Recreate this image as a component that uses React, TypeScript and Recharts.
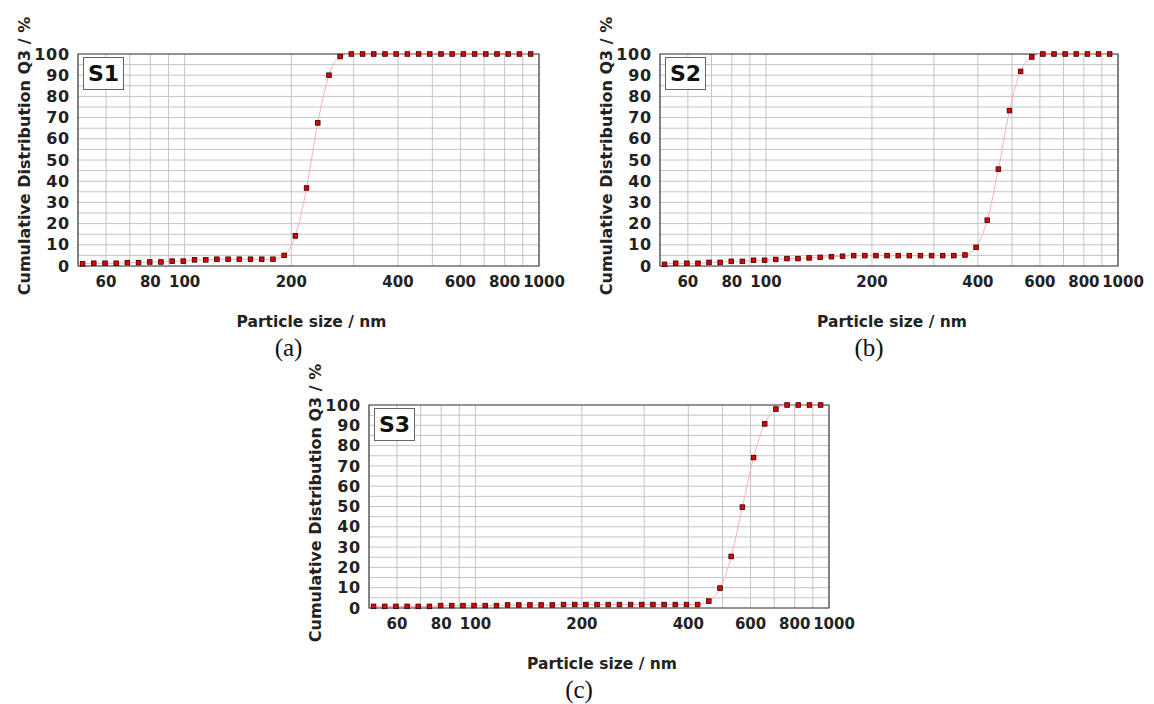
import React from 'react';
import { ComposedChart, Line, XAxis, YAxis, CartesianGrid, ReferenceArea } from 'recharts';

// size classes (nm)
const sizes = [
  51.5, 55.4, 59.6, 64.1, 68.9, 74.1, 79.7, 85.7, 92.2, 99.1,
  106.6, 114.7, 123.3, 132.6, 142.6, 153.4, 165.0, 177.5, 190.9, 205.3,
  220.8, 237.5, 255.4, 274.7, 295.4, 317.7, 341.7, 367.5, 395.3, 425.1,
  457.2, 491.7, 528.9, 568.8, 611.8, 658.0, 707.7, 761.1, 818.6, 880.4, 946.9,
];

const q3S1 = [
  1.0, 1.3, 1.3, 1.3, 1.6, 1.6, 1.9, 1.9, 2.3, 2.3,
  2.9, 2.9, 3.2, 3.2, 3.2, 3.2, 3.2, 3.2, 5.0, 14.2,
  36.8, 67.5, 90.0, 98.8, 100, 100, 100, 100, 100, 100,
  100, 100, 100, 100, 100, 100, 100, 100, 100, 100, 100,
];

const q3S2 = [
  0.8, 1.3, 1.3, 1.3, 1.7, 1.7, 2.2, 2.2, 2.7, 2.7,
  3.1, 3.5, 3.5, 3.8, 4.1, 4.4, 4.6, 4.9, 4.9, 4.9,
  4.9, 4.9, 4.9, 4.9, 4.9, 4.9, 4.9, 5.2, 8.8, 21.6,
  45.7, 73.3, 91.8, 98.6, 100, 100, 100, 100, 100, 100, 100,
];

const q3S3 = [
  0.8, 0.8, 0.8, 0.8, 0.8, 0.8, 1.2, 1.2, 1.2, 1.2,
  1.2, 1.2, 1.5, 1.5, 1.5, 1.5, 1.5, 1.7, 1.7, 1.7,
  1.7, 1.7, 1.7, 1.7, 1.7, 1.7, 1.7, 1.7, 1.7, 1.7,
  3.4, 9.8, 25.4, 49.7, 74.1, 90.7, 98.0, 100, 100, 100, 100,
];

const xTicks = [60, 70, 80, 90, 100, 200, 300, 400, 500, 600, 700, 800, 900, 1000];
const xMinorTicks = [55, 65, 75, 85, 95, 150, 250, 350, 450, 550, 650, 750, 850, 950];
const xLabels = [60, 80, 100, 200, 400, 600, 800, 1000];
const yTicks = [0, 5, 10, 15, 20, 25, 30, 35, 40, 45, 50, 55, 60, 65, 70, 75, 80, 85, 90, 95, 100];

const FONT = '"DejaVu Sans", Verdana, sans-serif';
const EXTRA = 30; // room to the right of the plot for the "1000" label

const SquareDot = (props: any) => {
  const { cx, cy } = props;
  if (cx == null || cy == null) return null;
  return <rect x={cx - 2.3} y={cy - 2.3} width={4.6} height={4.6} fill="#e00000" stroke="#300000" strokeWidth={0.8} />;
};

const XTick = (props: any) => {
  const { x, y, payload } = props;
  const v = payload.value;
  if (!xLabels.includes(v)) return null;
  // the last label sits a little right of its grid line in the original
  const dx = v === 1000 ? 5 : 0;
  return (
    <text x={x + dx} y={y} dy={11} textAnchor="middle" fill="#222"
      fontSize={15} fontWeight="bold" fontFamily={FONT}>
      {v}
    </text>
  );
};

type PanelProps = {
  values: number[],
  tag: string,
  caption: string,
  left: number,
  top: number,
  height: number,
  rightMargin: number,
};

const Panel: React.FC<PanelProps> = ({ values, tag, caption, left, top, height, rightMargin }) => {
  const data = sizes.map((s, i) => ({ size: s, q3: values[i] }));
  const width = 560 + EXTRA;
  const plotLeft = 78;
  const plotTop = 54;
  const plotBottom = height - 34;
  const plotRight = 560 - rightMargin;
  const midX = (plotLeft + plotRight) / 2;
  const midY = (plotTop + plotBottom) / 2;
  return (
    <div style={{ position: 'absolute', left, top, width, height: height + 60 }}>
      <ComposedChart width={width} height={height} data={data}
        margin={{ top: plotTop, right: rightMargin + EXTRA, left: 0, bottom: 0 }}>
        <CartesianGrid stroke="#c4c4c4" strokeWidth={1} />
        <XAxis dataKey="size" type="number" scale="log" domain={[50, 1000]} allowDataOverflow
          ticks={xTicks} height={34} tickLine={false} axisLine={false} tickMargin={4}
          interval={0} tick={<XTick />} />
        <XAxis xAxisId="top" orientation="top" mirror dataKey="size" type="number" scale="log"
          domain={[50, 1000]} allowDataOverflow ticks={[...xTicks, ...xMinorTicks]} interval={0}
          height={0} axisLine={false} tickSize={4} stroke="#555" tickFormatter={() => ''} />
        <YAxis type="number" domain={[0, 100]} ticks={yTicks} width={78} interval={0}
          tickLine={false} axisLine={false} tickMargin={2}
          tickFormatter={(v: number) => (v % 10 === 0 ? String(v) : '')}
          tick={{ fill: '#222', fontSize: 16, fontWeight: 'bold', fontFamily: FONT, letterSpacing: 0.8 }} />
        <YAxis yAxisId="right" orientation="right" mirror type="number" domain={[0, 100]} ticks={yTicks}
          interval={0} width={0} axisLine={false} tickSize={4} stroke="#555" tickFormatter={() => ''} />
        <ReferenceArea x1={50} x2={1000} y1={0} y2={100} fill="none" stroke="#444" strokeWidth={1.2} />
        <Line dataKey="q3" type="monotone" stroke="#ffb0b0" strokeWidth={1}
          dot={<SquareDot />} activeDot={false} isAnimationActive={false} />
      </ComposedChart>
      <div style={{ position: 'absolute', left: plotLeft + 5, top: plotTop + 3, width: 41, height: 33,
        boxSizing: 'border-box', border: '1px solid #666', background: '#fff',
        fontFamily: FONT, fontWeight: 'bold', fontSize: 22, lineHeight: '31px', textAlign: 'center', color: '#111' }}>
        {tag}
      </div>
      <div style={{ position: 'absolute', left: 25 - 160, top: midY - 4 - 11, width: 320, height: 22,
        transform: 'rotate(-90deg)', textAlign: 'center', fontFamily: FONT, fontWeight: 'bold',
        fontSize: 16, lineHeight: '22px', color: '#222', whiteSpace: 'nowrap' }}>
        Cumulative Distribution Q3 / %
      </div>
      <div style={{ position: 'absolute', left: midX - 150 + 3, top: plotBottom + 47, width: 300,
        textAlign: 'center', fontFamily: FONT, fontWeight: 'bold', fontSize: 15.5, color: '#222' }}>
        Particle size / nm
      </div>
      <div style={{ position: 'absolute', left: midX - 50 - 20, top: plotBottom + 71, width: 100, height: 22,
        textAlign: 'center', fontFamily: '"Liberation Serif", serif', fontSize: 25, lineHeight: '22px', color: '#111' }}>
        {caption}
      </div>
    </div>
  );
};

export default function App() {
  return (
    <div style={{ position: 'absolute', left: 0, top: 0, width: 1154, height: 704, background: '#fff', overflow: 'hidden' }}>
      <Panel values={q3S1} tag="S1" caption="(a)" left={0} top={0} height={300} rightMargin={21} />
      <Panel values={q3S2} tag="S2" caption="(b)" left={582} top={0} height={300} rightMargin={24} />
      <Panel values={q3S3} tag="S3" caption="(c)" left={291} top={351} height={291} rightMargin={22} />
    </div>
  );
}
